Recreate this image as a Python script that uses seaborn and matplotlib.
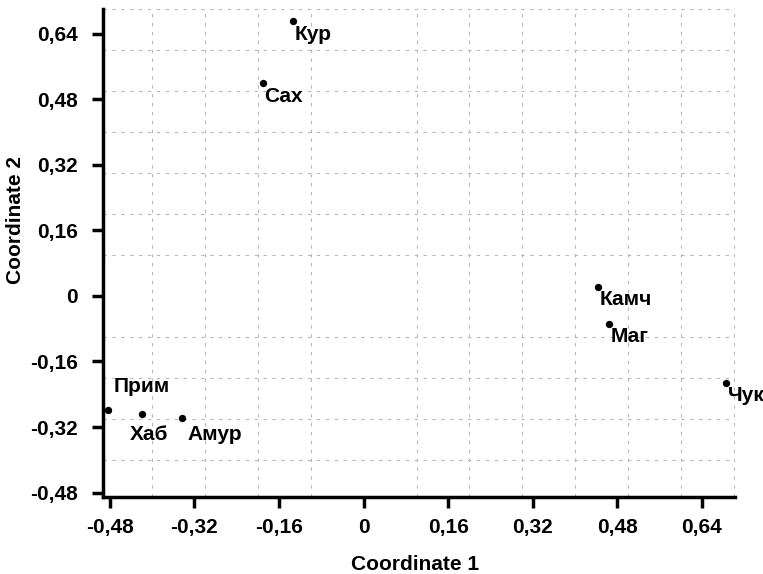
import matplotlib
matplotlib.use('Agg')
import matplotlib.pyplot as plt
import seaborn as sns
import pandas as pd
from matplotlib.ticker import MultipleLocator, FixedLocator, FuncFormatter

# Coordinates
regions = ['Кур', 'Сах', 'Камч', 'Маг', 'Чук', 'Прим', 'Хаб', 'Амур']
coord1 = [-0.134, -0.190, 0.444, 0.464, 0.686, -0.484, -0.419, -0.344]
coord2 = [0.672, 0.520, 0.022, -0.068, -0.213, -0.279, -0.289, -0.298]
ticks = [-0.48, -0.32, -0.16, 0, 0.16, 0.32, 0.48, 0.64]

# label offsets in points (dx, dy, ha, va)
offsets = {
    'Кур': (1, -3, 'left', 'top'),
    'Сах': (1, -3, 'left', 'top'),
    'Камч': (1, -2, 'left', 'top'),
    'Маг': (1, -2, 'left', 'top'),
    'Чук': (1, -2, 'left', 'top'),
    'Прим': (4, 10, 'left', 'bottom'),
    'Хаб': (-9, -8, 'left', 'top'),
    'Амур': (4, -5, 'left', 'top'),
}

df = pd.DataFrame({'Coordinate 1': coord1, 'Coordinate 2': coord2, 'name': regions})

sns.set_style('white')
plt.rcParams['font.family'] = ['Liberation Sans', 'DejaVu Sans']
plt.rcParams['font.weight'] = 'bold'

fig = plt.figure(figsize=(7.63, 5.74), dpi=100)
ax = fig.add_axes([0.135, 0.134, 0.828, 0.85])

sns.scatterplot(x='Coordinate 1', y='Coordinate 2', data=df, color='black',
                s=28, edgecolor='black', linewidth=0, ax=ax, zorder=3)

for _, r in df.iterrows():
    dx, dy, ha, va = offsets[r['name']]
    ax.annotate(r['name'], (r['Coordinate 1'], r['Coordinate 2']),
                xytext=(dx, dy), textcoords='offset points', ha=ha, va=va,
                fontsize=15, fontweight='bold', color='black')

ax.set_xlim(-0.493, 0.702)
ax.set_ylim(-0.491, 0.70)

fmt = FuncFormatter(lambda v, p: '0' if abs(v) < 1e-9 else f'{v:.2f}'.replace('.', ','))
ax.xaxis.set_major_locator(FixedLocator(ticks))
ax.yaxis.set_major_locator(FixedLocator(ticks))
ax.xaxis.set_major_formatter(fmt)
ax.yaxis.set_major_formatter(fmt)
ax.xaxis.set_minor_locator(MultipleLocator(0.1))
ax.yaxis.set_minor_locator(MultipleLocator(0.1))

ax.grid(False, which='major')
ax.grid(True, which='minor', color='#b8b8b8', linestyle=(0, (3, 5)), linewidth=0.8)
ax.tick_params(which='minor', length=0)
ax.tick_params(which='major', direction='out', length=8, width=2.5, color='black',
               labelsize=15, labelcolor='black', pad=7, bottom=True, left=True)
ax.tick_params(axis='y', which='major', pad=10)

for s in ['top', 'right']:
    ax.spines[s].set_visible(False)
for s in ['left', 'bottom']:
    ax.spines[s].set_linewidth(2.5)
    ax.spines[s].set_color('black')

ax.set_xlabel('Coordinate 1', fontsize=15, fontweight='bold', color='black')
ax.set_ylabel('Coordinate 2', fontsize=15, fontweight='bold', color='black')
ax.xaxis.set_label_coords(0.494, -0.118)
ax.yaxis.set_label_coords(-0.123, 0.568)

fig.savefig('out.png', dpi=100)
